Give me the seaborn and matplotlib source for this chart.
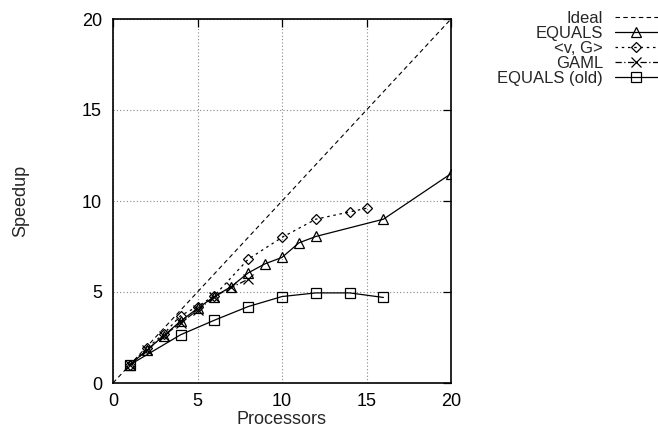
import matplotlib
matplotlib.use("Agg")
import matplotlib.pyplot as plt
import seaborn as sns
import numpy as np

ideal_x = [0, 20]
ideal_y = [0, 20]

equals_x = [1, 2, 3, 4, 5, 6, 7, 8, 9, 10, 11, 12, 16, 20]
equals_y = [1.0, 1.8, 2.6, 3.4, 4.1, 4.75, 5.3, 6.05, 6.55, 6.9, 7.7, 8.05, 9.0, 11.5]

vg_x = [1, 2, 3, 4, 5, 6, 8, 10, 12, 14, 15]
vg_y = [1.0, 1.9, 2.7, 3.7, 4.2, 4.8, 6.8, 8.0, 9.0, 9.4, 9.6]

gaml_x = [1, 2, 3, 4, 5, 6, 7, 8]
gaml_y = [1.0, 1.8, 2.6, 3.3, 4.0, 4.75, 5.25, 5.7]

old_x = [1, 4, 6, 8, 10, 12, 14, 16]
old_y = [1.0, 2.65, 3.45, 4.2, 4.75, 4.95, 4.95, 4.7]

x_ticks = [0, 5, 10, 15, 20]
y_ticks = [0, 5, 10, 15, 20]

sns.set_style("white")
plt.rcParams['font.family'] = ['Liberation Sans', 'DejaVu Sans']
FS = 13
LFS = 12

fig = plt.figure(figsize=(6.58, 4.29), dpi=100)
ax = fig.add_axes([113 / 658, 1 - 383 / 429, 338 / 658, 364 / 429])

common = dict(color="black", linewidth=0.9, markerfacecolor="none",
              markeredgecolor="black", markeredgewidth=0.9, ax=ax)

sns.lineplot(x=ideal_x, y=ideal_y, linestyle=(0, (4, 3)), label="Ideal",
             color="black", linewidth=0.8, ax=ax)
sns.lineplot(x=equals_x, y=equals_y, marker="^", markersize=7,
             linestyle="-", label="EQUALS", **common)
sns.lineplot(x=vg_x, y=vg_y, marker="D", markersize=5.5,
             linestyle=(0, (2, 3)), label="<v, G>", **common)
sns.lineplot(x=gaml_x, y=gaml_y, marker="x", markersize=7,
             linestyle=(0, (5, 2, 1, 2)), label="GAML", **common)
sns.lineplot(x=old_x, y=old_y, marker="s", markersize=7,
             linestyle="-", label="EQUALS (old)", **common)

ax.set_xlim(0, 20)
ax.set_ylim(0, 20)
ax.set_xticks(x_ticks)
ax.set_yticks(y_ticks)
ax.grid(True, linestyle=(0, (1, 2)), color="#888888", linewidth=0.8)
ax.tick_params(direction="in", length=5.5, width=0.9, top=True, right=True,
               labelsize=FS, colors="black")
ax.tick_params(axis="y", pad=8)
ax.tick_params(axis="x", pad=7.5)
for s in ax.spines.values():
    s.set_visible(True)
    s.set_color("black")
    s.set_linewidth(1.2)

ax.set_xlabel("Processors", fontsize=FS)
ax.xaxis.label.set_va("center")
ax.xaxis.set_label_coords(0.5, -(419 - 383) / 364)
ax.set_ylabel("Speedup", fontsize=FS)
ax.yaxis.label.set_va("center")
ax.yaxis.set_label_coords(-(113 - 21) / 338, 0.5)

handles, labels = ax.get_legend_handles_labels()
if ax.get_legend():
    ax.get_legend().remove()
leg = fig.legend(handles, labels, loc="upper right",
                 bbox_to_anchor=(1.0, 0.975), markerfirst=False,
                 frameon=False, handlelength=2.6, handletextpad=0.7,
                 labelspacing=0.0, borderaxespad=0, borderpad=0,
                 fontsize=LFS)
for t in leg.get_texts():
    t.set_ha("right")

fig.savefig("out.png", dpi=100)
